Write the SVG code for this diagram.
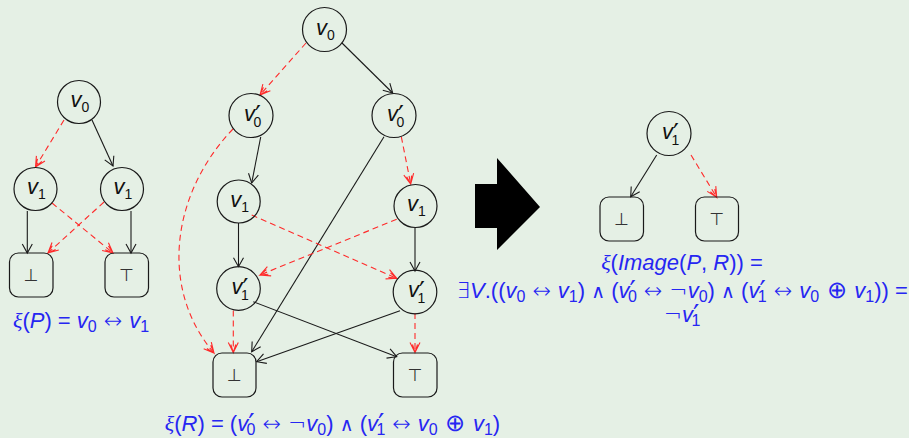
<svg xmlns="http://www.w3.org/2000/svg" width="909" height="438" viewBox="0 0 909 438">
  <defs>
    <style>
      .nd circle { fill: none; stroke: #1a1a1a; stroke-width: 1.2; }
      .nd rect { fill: none; stroke: #1a1a1a; stroke-width: 1.2; }
      .lb { font-family: "Liberation Sans", "DejaVu Sans", sans-serif; font-size: 22px; font-style: italic; fill: #111; }
      .ls { font-size: 14px; font-style: normal; }
      .lp { font-family: "DejaVu Sans", sans-serif; font-size: 26px; font-style: normal; }
      .sym { font-family: "DejaVu Sans", sans-serif; font-size: 17px; fill: #333; text-anchor: middle; }
      .e { stroke: #1a1a1a; stroke-width: 1.1; fill: none; marker-end: url(#ab); }
      .d { stroke: #ff2a2a; stroke-width: 1.1; fill: none; stroke-dasharray: 6 4; marker-end: url(#ar); }
      .f { font-family: "Liberation Sans", "DejaVu Sans", sans-serif; font-size: 22px; fill: #2626f2; text-anchor: middle; }
      .i { font-style: italic; }
      .s { font-size: 16px; font-style: normal; }
      .p { font-family: "DejaVu Sans", sans-serif; font-size: 28px; font-style: normal; }
      .o { font-family: "DejaVu Sans", sans-serif; font-weight: 300; }
      .w { font-family: "DejaVu Sans", sans-serif; font-size: 19px; }
      .xi { font-family: "Liberation Serif", serif; font-style: italic; }
      .op { font-family: "DejaVu Sans", sans-serif; font-size: 24px; font-weight: 300; }
    </style>
    <marker id="ab" markerUnits="userSpaceOnUse" markerWidth="14" markerHeight="12" refX="12" refY="6" orient="auto">
      <path d="M3,1 L12,6 L3,11" fill="none" stroke="#1a1a1a" stroke-width="1.1"/>
    </marker>
    <marker id="ar" markerUnits="userSpaceOnUse" markerWidth="14" markerHeight="12" refX="12" refY="6" orient="auto">
      <path d="M2,1 L12,6 L2,11 M4,3.5 L12,6 L4,8.5" fill="none" stroke="#ff2a2a" stroke-width="1.1"/>
    </marker>
  </defs>

  <rect width="909" height="438" fill="#e5f0e5"/>

  <!-- connectors -->
  <g id="connectors">
    <!-- left graph -->
    <line class="d" x1="64" y1="120" x2="35.5" y2="167"/>
    <line class="e" x1="92" y1="120" x2="113" y2="166"/>
    <line class="e" x1="27.3" y1="211" x2="27.3" y2="253"/>
    <line class="e" x1="131" y1="211" x2="131" y2="253"/>
    <line class="d" x1="52" y1="203" x2="113" y2="253"/>
    <line class="d" x1="104" y1="202" x2="48" y2="253"/>
    <!-- middle graph -->
    <line class="d" x1="306" y1="43" x2="260" y2="95"/>
    <line class="e" x1="342" y1="43" x2="392.7" y2="93"/>
    <line class="e" x1="260.7" y1="137" x2="251.7" y2="183"/>
    <path class="d" d="M233,129 C170,195 160,290 214,353"/>
    <line class="d" x1="401.3" y1="136.7" x2="410.7" y2="184"/>
    <line class="e" x1="384" y1="136.7" x2="251.7" y2="351.7"/>
    <line class="e" x1="238.5" y1="223" x2="238.5" y2="266.7"/>
    <line class="d" x1="251.7" y1="215" x2="396.7" y2="278.3"/>
    <line class="d" x1="396.7" y1="219.3" x2="260" y2="275"/>
    <line class="e" x1="415" y1="228" x2="415" y2="271"/>
    <line class="d" x1="233.3" y1="310.5" x2="233.3" y2="352.5"/>
    <line class="e" x1="253.3" y1="301.7" x2="396.7" y2="356.7"/>
    <line class="e" x1="400" y1="310.7" x2="256.7" y2="361.7"/>
    <line class="d" x1="415" y1="313" x2="415" y2="352.5"/>
    <!-- right graph -->
    <line class="e" x1="656.7" y1="155" x2="630.7" y2="196.7"/>
    <line class="d" x1="691" y1="155" x2="716.7" y2="197.3"/>
  </g>

  <!-- left graph: P -->
  <g id="p-v0" class="nd">
    <circle cx="79" cy="102" r="21.5"/>
    <text class="lb" x="70.5" y="107">v<tspan class="ls" dy="5">0</tspan></text>
  </g>
  <g id="p-v1a" class="nd">
    <circle cx="35.5" cy="189" r="21.5"/>
    <text class="lb" x="27" y="194">v<tspan class="ls" dy="5">1</tspan></text>
  </g>
  <g id="p-v1b" class="nd">
    <circle cx="122" cy="189" r="21.5"/>
    <text class="lb" x="113.5" y="194">v<tspan class="ls" dy="5">1</tspan></text>
  </g>
  <g id="p-false" class="nd">
    <rect x="9.5" y="253" width="43.5" height="44" rx="9"/>
    <text class="sym" x="31.2" y="281">⊥</text>
  </g>
  <g id="p-true" class="nd">
    <rect x="105" y="253" width="43.5" height="44" rx="9"/>
    <text class="sym" x="126.7" y="281">⊤</text>
  </g>

  <!-- middle graph: R -->
  <g id="r-v0" class="nd">
    <circle cx="324.5" cy="29.5" r="22"/>
    <text class="lb" x="316" y="34.5">v<tspan class="ls" dy="5">0</tspan></text>
  </g>
  <g id="r-v0pa" class="nd">
    <circle cx="251" cy="115.5" r="22"/>
    <text class="lb" x="244" y="120.5">v<tspan class="lp" dy="4">′</tspan><tspan class="ls" dx="-7.5" dy="2">0</tspan></text>
  </g>
  <g id="r-v0pb" class="nd">
    <circle cx="394" cy="115.5" r="22"/>
    <text class="lb" x="387" y="120.5">v<tspan class="lp" dy="4">′</tspan><tspan class="ls" dx="-7.5" dy="2">0</tspan></text>
  </g>
  <g id="r-v1a" class="nd">
    <circle cx="238.7" cy="201.5" r="21.5"/>
    <text class="lb" x="230.2" y="206.5">v<tspan class="ls" dy="5">1</tspan></text>
  </g>
  <g id="r-v1b" class="nd">
    <circle cx="415.5" cy="206" r="21.5"/>
    <text class="lb" x="407" y="211">v<tspan class="ls" dy="5">1</tspan></text>
  </g>
  <g id="r-v1pa" class="nd">
    <circle cx="238.5" cy="288.5" r="21.8"/>
    <text class="lb" x="231.5" y="293.5">v<tspan class="lp" dy="4">′</tspan><tspan class="ls" dx="-7.5" dy="2">1</tspan></text>
  </g>
  <g id="r-v1pb" class="nd">
    <circle cx="415" cy="292" r="21.8"/>
    <text class="lb" x="408" y="297">v<tspan class="lp" dy="4">′</tspan><tspan class="ls" dx="-7.5" dy="2">1</tspan></text>
  </g>
  <g id="r-false" class="nd">
    <rect x="213" y="353" width="43" height="44" rx="9"/>
    <text class="sym" x="234.5" y="381">⊥</text>
  </g>
  <g id="r-true" class="nd">
    <rect x="393.5" y="353" width="43.5" height="44" rx="9"/>
    <text class="sym" x="415.2" y="381">⊤</text>
  </g>

  <!-- big arrow -->
  <polygon points="475,184 497,184 497,158 540,207 497,250 497,228 475,228" fill="#000"/>

  <!-- right graph: Image(P, R) -->
  <g id="i-v1p" class="nd">
    <circle cx="669" cy="133.5" r="22"/>
    <text class="lb" x="662" y="138.5">v<tspan class="lp" dy="4">′</tspan><tspan class="ls" dx="-7.5" dy="2">1</tspan></text>
  </g>
  <g id="i-false" class="nd">
    <rect x="600" y="197" width="43.5" height="44" rx="9"/>
    <text class="sym" x="621.7" y="225">⊥</text>
  </g>
  <g id="i-true" class="nd">
    <rect x="695.5" y="197" width="43" height="44" rx="9"/>
    <text class="sym" x="717" y="225">⊤</text>
  </g>

  <!-- formulas -->
  <text class="f" x="81" y="328"><tspan class="xi">ξ</tspan>(<tspan class="i">P</tspan>) = <tspan class="i">v</tspan><tspan class="s" dy="4">0</tspan><tspan class="o" dy="-4"> ↔ </tspan><tspan class="i">v</tspan><tspan class="s" dy="4">1</tspan></text>

  <text class="f" x="332.5" y="431"><tspan class="xi">ξ</tspan>(<tspan class="i">R</tspan>) = (<tspan class="i">v</tspan><tspan class="p" dy="3">′</tspan><tspan class="s" dx="-8" dy="1">0</tspan><tspan class="o" dy="-4"> ↔ ¬</tspan><tspan class="i">v</tspan><tspan class="s" dy="4">0</tspan><tspan dy="-4">) </tspan><tspan class="w">∧</tspan> (<tspan class="i">v</tspan><tspan class="p" dy="3">′</tspan><tspan class="s" dx="-8" dy="1">1</tspan><tspan class="o" dy="-4"> ↔ </tspan><tspan class="i">v</tspan><tspan class="s" dy="4">0</tspan><tspan class="op" dy="-4"> ⊕ </tspan><tspan class="i">v</tspan><tspan class="s" dy="4">1</tspan><tspan dy="-4">)</tspan></text>

  <text class="f" x="682" y="270"><tspan class="xi">ξ</tspan>(<tspan class="i">Image</tspan>(<tspan class="i">P</tspan>, <tspan class="i">R</tspan>)) =</text>
  <text class="f" x="682" y="298"><tspan class="o">∃</tspan><tspan class="i">V</tspan>.((<tspan class="i">v</tspan><tspan class="s" dy="4">0</tspan><tspan class="o" dy="-4"> ↔ </tspan><tspan class="i">v</tspan><tspan class="s" dy="4">1</tspan><tspan dy="-4">) </tspan><tspan class="w">∧</tspan> (<tspan class="i">v</tspan><tspan class="p" dy="3">′</tspan><tspan class="s" dx="-8" dy="1">0</tspan><tspan class="o" dy="-4"> ↔ ¬</tspan><tspan class="i">v</tspan><tspan class="s" dy="4">0</tspan><tspan dy="-4">) </tspan><tspan class="w">∧</tspan> (<tspan class="i">v</tspan><tspan class="p" dy="3">′</tspan><tspan class="s" dx="-8" dy="1">1</tspan><tspan class="o" dy="-4"> ↔ </tspan><tspan class="i">v</tspan><tspan class="s" dy="4">0</tspan><tspan class="op" dy="-4"> ⊕ </tspan><tspan class="i">v</tspan><tspan class="s" dy="4">1</tspan><tspan dy="-4">)) =</tspan></text>
  <text class="f" x="682" y="322"><tspan class="o">¬</tspan><tspan class="i">v</tspan><tspan class="p" dy="3">′</tspan><tspan class="s" dx="-8" dy="1">1</tspan></text>
</svg>
